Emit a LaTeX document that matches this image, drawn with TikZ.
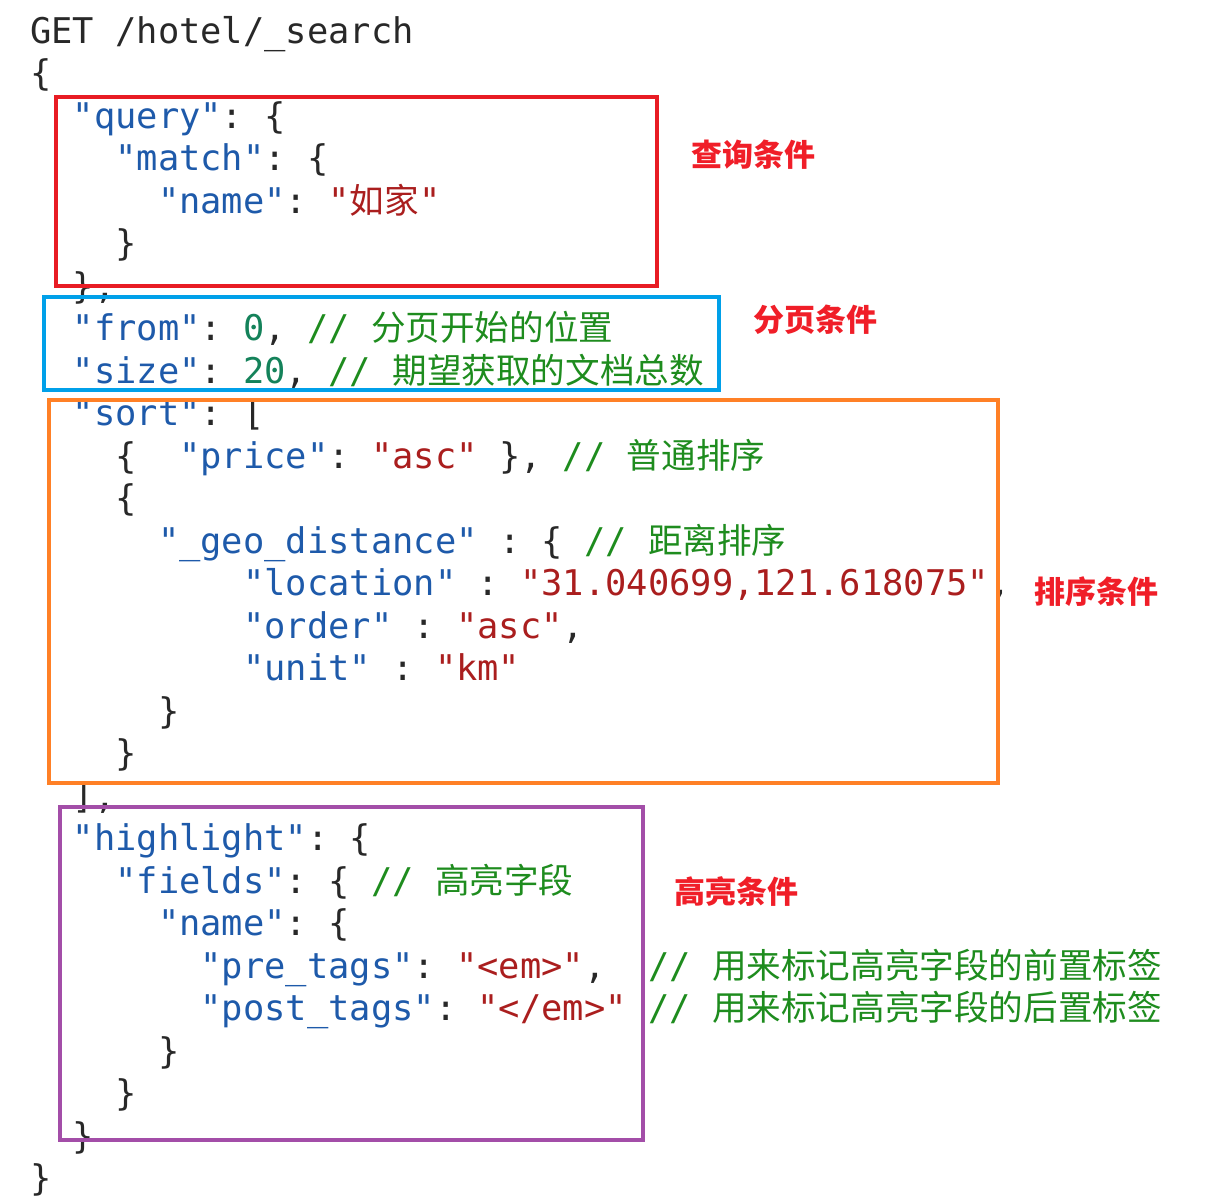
\documentclass[tikz,border=0pt]{standalone}
\usepackage{fontspec}
\usepackage{xcolor}
\usetikzlibrary{positioning}
\newfontfamily\codefont{DejaVu Sans Mono}
\newfontfamily\cjk{Noto Sans CJK SC}
\definecolor{keyblue}{RGB}{30,90,170}
\definecolor{strred}{RGB}{170,30,30}
\definecolor{numgreen}{RGB}{20,130,90}
\definecolor{cmtgreen}{RGB}{30,140,30}
\definecolor{punct}{RGB}{40,40,40}
\definecolor{lblred}{RGB}{240,30,40}
\definecolor{boxred}{RGB}{232,28,36}
\definecolor{boxblue}{RGB}{0,160,233}
\definecolor{boxorange}{RGB}{255,128,38}
\definecolor{boxpurple}{RGB}{163,78,168}
\newcommand{\code}{\codefont\fontsize{35.4}{42.5}\selectfont\frenchspacing}
\newcommand{\us}{\textunderscore}
\newcommand{\ky}[1]{\textcolor{keyblue}{#1}}
\newcommand{\sv}[1]{\textcolor{strred}{#1}}
\newcommand{\nm}[1]{\textcolor{numgreen}{#1}}
\newcommand{\cmt}[1]{\textcolor{cmtgreen}{#1}}
\newcommand{\zh}[1]{{\cjk\fontsize{34.6}{42}\selectfont #1}}

\begin{document}
\begin{tikzpicture}[x=1pt,y=-1pt]
    \tikzstyle{every node}=[anchor=base west,inner sep=0pt,text=punct,font=\code];
    \tikzstyle{label}=[anchor=center,text=lblred,font=\cjk\bfseries\fontsize{31}{31}\selectfont];
    \useasboundingbox (0,0) rectangle (1212,1202);

    \node (get) at (30,43) {GET /hotel/\us search};
    \node (lbrace) at (30,85.5) {\{};
    \node (query) at (72.6,128) {\ky{"query"}: \{};
    \node (match) at (115.2,170.5) {\ky{"match"}: \{};
    \node (qname) at (157.8,213) {\ky{"name"}: \sv{"\zh{如家}"}};
    \node (matchend) at (115.2,255.5) {\}};
    \node (queryend) at (72.6,298) {\},};
    \node (from) at (72.6,340.5) {\ky{"from"}: \nm{0}, \cmt{// \zh{分页开始的位置}}};
    \node (size) at (72.6,383) {\ky{"size"}: \nm{20}, \cmt{// \zh{期望获取的文档总数}}};
    \node (sort) at (72.6,425.5) {\ky{"sort"}: [};
    \node (price) at (115.2,468) {\{~ \ky{"price"}: \sv{"asc"} \}, \cmt{// \zh{普通排序}}};
    \node (geoopen) at (115.2,510.5) {\{};
    \node (geo) at (157.8,553) {\ky{"\us geo\us distance"} : \{ \cmt{// \zh{距离排序}}};
    \node (location) at (243,595.5) {\ky{"location"} : \sv{"31.040699,121.618075"},};
    \node (order) at (243,638) {\ky{"order"} : \sv{"asc"},};
    \node (unit) at (243,680.5) {\ky{"unit"} : \sv{"km"}};
    \node (geoend) at (157.8,723) {\}};
    \node (geoclose) at (115.2,765.5) {\}};
    \node (sortend) at (72.6,808) {],};
    \node (hl) at (72.6,850.5) {\ky{"highlight"}: \{};
    \node (fields) at (115.2,893) {\ky{"fields"}: \{ \cmt{// \zh{高亮字段}}};
    \node (hlname) at (157.8,935.5) {\ky{"name"}: \{};
    \node (pretags) at (200.4,978) {\ky{"pre\us tags"}: \sv{"<em>"},~ \cmt{// \zh{用来标记高亮字段的前置标签}}};
    \node (posttags) at (200.4,1020.5) {\ky{"post\us tags"}: \sv{"</em>"} \cmt{// \zh{用来标记高亮字段的后置标签}}};
    \node (hlnameend) at (157.8,1063) {\}};
    \node (fieldsend) at (115.2,1105.5) {\}};
    \node (hlend) at (72.6,1148) {\}};
    \node (rbrace) at (30,1190.5) {\}};

    \draw[boxred,line width=4pt] (56,97) rectangle (657,286);
    \draw[boxblue,line width=4pt] (44,297) rectangle (719,390);
    \draw[boxorange,line width=4pt] (49,400) rectangle (998,783);
    \draw[boxpurple,line width=4pt] (60,807) rectangle (643,1140);

    \node[label] (lblquery) at (753,155) {查询条件};
    \node[label] (lblpage) at (815,320) {分页条件};
    \node[label] (lblsort) at (1096,592) {排序条件};
    \node[label] (lblhl) at (736,892) {高亮条件};
\end{tikzpicture}
\end{document}
